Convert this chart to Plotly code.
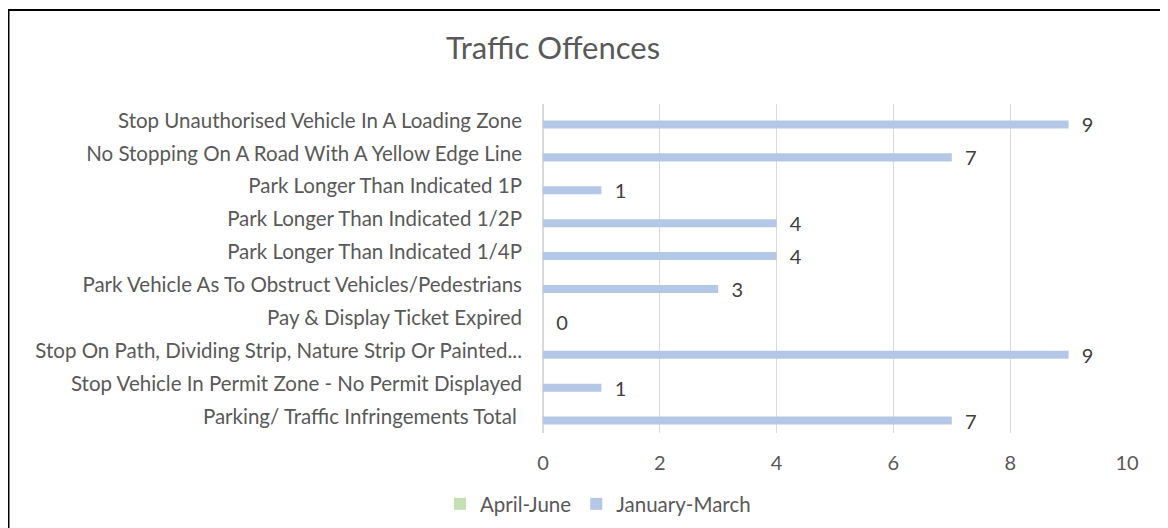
import plotly.graph_objects as go

categories = [
    "Stop Unauthorised Vehicle In A Loading Zone",
    "No Stopping On A Road With A Yellow Edge Line",
    "Park Longer Than Indicated 1P",
    "Park Longer Than Indicated 1/2P",
    "Park Longer Than Indicated 1/4P",
    "Park Vehicle As To Obstruct Vehicles/Pedestrians",
    "Pay & Display Ticket Expired",
    "Stop On Path, Dividing Strip, Nature Strip Or Painted...",
    "Stop Vehicle In Permit Zone - No Permit Displayed",
    "Parking/ Traffic Infringements Total ",
]
april_june = [None] * 10
january_march = [9, 7, 1, 4, 4, 3, 0, 9, 1, 7]
x_ticks = [0, 2, 4, 6, 8, 10]

FONT = "Lato, Open Sans, sans-serif"
TXT = "#595959"

fig = go.Figure()
fig.add_trace(go.Bar(
    name="April-June", y=categories, x=april_june, orientation="h",
    marker=dict(color="#C5E0B4", line=dict(width=0)),
))
fig.add_trace(go.Bar(
    name="January-March", y=categories, x=january_march, orientation="h",
    marker=dict(color="#B4C7E7", line=dict(width=0)),
    text=[str(v) for v in january_march],
    texttemplate="\u00a0\u00a0%{text}",
    textposition="outside", cliponaxis=False, constraintext="none",
    textfont=dict(family=FONT, size=20, color="#404040"),
))

# page is drawn with an 8px body margin, so figure coords = page coords - 8
W, H = 1160, 520
L, R, T, B = 535, 41, 96, 95
pw, ph = W - L - R, H - T - B

def px_x(p):
    return (p - L) / pw

def px_y(p):
    return 1 - (p - T) / ph

fig.update_layout(
    width=W, height=H,
    margin=dict(l=L, r=R, t=T, b=B, autoexpand=False),
    paper_bgcolor="white", plot_bgcolor="white",
    barmode="group", bargap=0.51, bargroupgap=0,
    font=dict(family=FONT, size=20.5, color=TXT),
    title=dict(text="Traffic Offences", x=545 / W, xanchor="center",
               y=1 - 40 / H, yanchor="middle", xref="container", yref="container",
               font=dict(family=FONT, size=31, color=TXT)),
    xaxis=dict(range=[0, 10], tickvals=x_ticks, showgrid=True, gridcolor="#D9D9D9",
               gridwidth=1, zeroline=True, zerolinecolor="#D9D9D9", showline=False,
               ticks="", ticklabelstandoff=16, tickfont=dict(size=20, color=TXT)),
    yaxis=dict(autorange="reversed", type="category", showgrid=False, showline=False,
               ticks="", ticklabelstandoff=20, tickfont=dict(size=20.5, color=TXT)),
    legend=dict(orientation="h", x=590 / W, xanchor="center", y=1 - 496 / H,
                yanchor="middle", xref="container", yref="container",
                font=dict(size=20.5, color=TXT), itemwidth=30, traceorder="normal"),
    shapes=[dict(type="rect", xref="paper", yref="paper",
                 x0=px_x(0.5), x1=px_x(1300), y0=px_y(700), y1=px_y(2),
                 line=dict(color="black", width=2), fillcolor="rgba(0,0,0,0)",
                 layer="above")],
)

fig.write_html("out.html")
